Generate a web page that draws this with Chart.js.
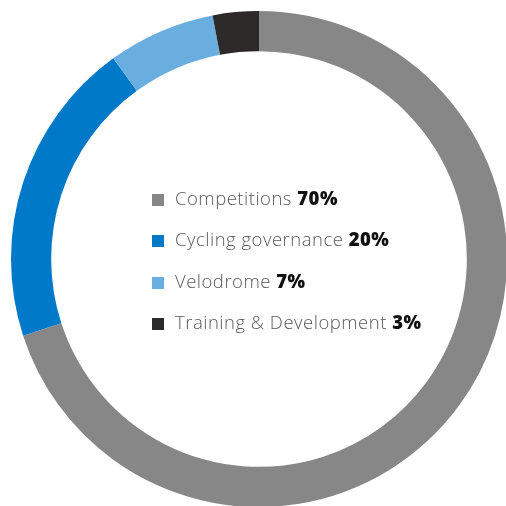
<!DOCTYPE html>
<html>
<head>
<meta charset="utf-8">
<script src="https://cdn.jsdelivr.net/npm/chart.js@4"></script>
<style>
  html, body { margin: 0; padding: 0; background: #fff; overflow: hidden; width: 506px; height: 506px; }
  #wrap { position: relative; width: 506px; height: 506px; overflow: hidden; }
  #donut { position: absolute; left: 0; top: 0; }
  #legend { position: absolute; left: 152px; top: 185px; font-family: "Open Sans", sans-serif; font-size: 18.5px; letter-spacing: 0.5px; color: #5a5a5a; font-weight: 300; }
  .row { height: 41.3px; display: flex; align-items: flex-start; white-space: nowrap; }
  .sw { width: 12px; height: 12px; margin-top: 9px; margin-right: 11px; flex: none; }
  .row b { color: #111; font-weight: 800; }
</style>
</head>
<body>
<div id="wrap">
  <canvas id="donut" width="518" height="518"></canvas>
  <div id="legend"></div>
</div>
<script>
// DATA
let categories = ["Competitions", "Cycling governance", "Velodrome", "Training & Development"];
let shares = [70, 20, 7, 3];
let colors = ['#878787', '#0079c8', '#6aaee0', '#2b2a29'];

// legend in the middle of the ring
let legendBox = document.getElementById('legend');
for (let i = 0; i < categories.length; i++) {
    let row = document.createElement('div');
    row.className = 'row';
    let sw = document.createElement('span');
    sw.className = 'sw';
    sw.style.background = colors[i];
    row.appendChild(sw);
    let txt = document.createElement('span');
    txt.textContent = categories[i] + ' ';
    let pct = document.createElement('b');
    pct.textContent = shares[i] + '%';
    txt.appendChild(pct);
    row.appendChild(txt);
    legendBox.appendChild(row);
}

let ctx = document.getElementById('donut').getContext('2d');
let donut = new Chart(ctx, {
    type: 'doughnut',
    data: {
        labels: categories,
        datasets: [{
            data: shares,
            backgroundColor: colors,
            borderWidth: 0
        }]
    },
    options: {
        responsive: false,
        animation: false,
        radius: 248,
        cutout: '83.8%',
        layout: { padding: 0 },
        plugins: {
            legend: { display: false },
            tooltip: { enabled: false }
        }
    }
});
</script>
</body>
</html>
